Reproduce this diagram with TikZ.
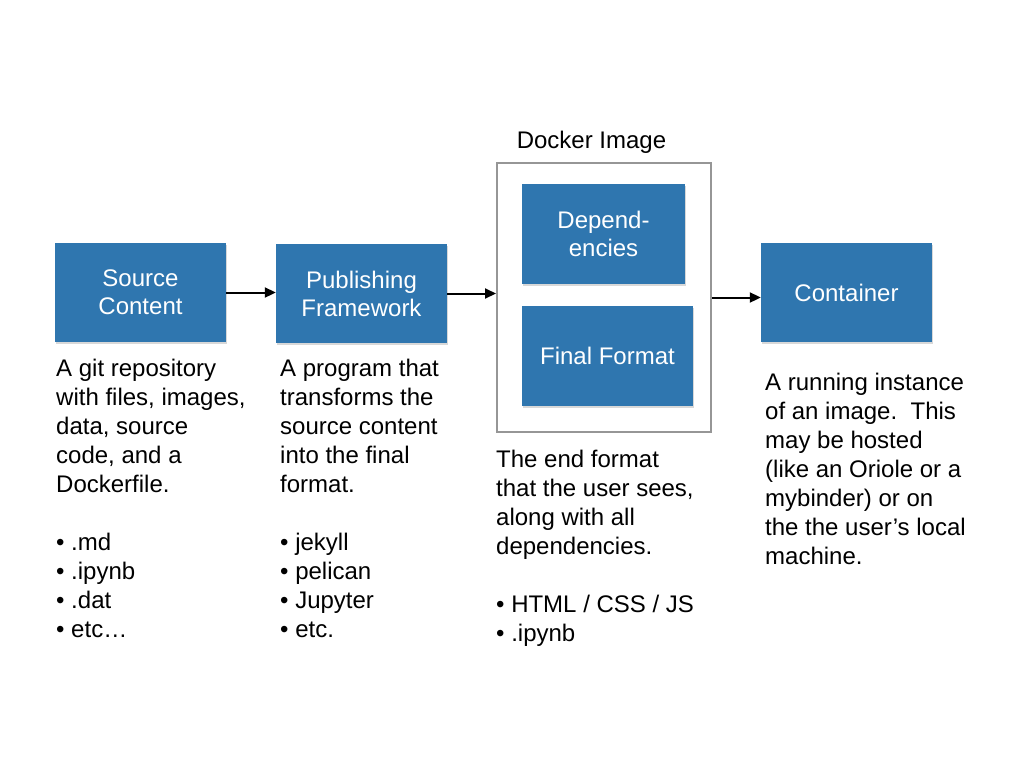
\documentclass[tikz,border=0pt]{standalone}
\usepackage{fontspec}
\setmainfont{Liberation Sans}
\usetikzlibrary{arrows.meta,shadows}
\definecolor{boxblue}{RGB}{47,118,175}
\definecolor{framegray}{RGB}{150,150,150}
\begin{document}
\begin{tikzpicture}[x=1pt,y=-1pt,
  bluebox/.style={fill=boxblue,draw=none,text=white,align=center,inner sep=0pt,
    font=\fontsize{24}{28}\selectfont,
    drop shadow={opacity=0.3,shadow xshift=0.8pt,shadow yshift=-1.5pt}},
  desc/.style={anchor=base west,align=left,inner sep=0pt,font=\fontsize{24}{29}\selectfont},
  conn/.style={line width=2pt,-{Triangle[length=11pt,width=10pt]}}]
\useasboundingbox[fill=white] (0,0) rectangle (1028,772);
\node[bluebox,minimum width=171pt,minimum height=99pt] (src) at (140.5,292.5) {Source\\Content};
\node[bluebox,minimum width=171pt,minimum height=99pt] (pub) at (361.5,293.5) {Publishing\\Framework};
\node[draw=framegray,line width=2pt,minimum width=214pt,minimum height=269pt,inner sep=0pt] (dock) at (604,297.5) {};
\node[anchor=base,inner sep=0pt,font=\fontsize{24}{29}\selectfont] (docklabel) at (591.5,148) {Docker Image};
\node[bluebox,minimum width=163pt,minimum height=100pt] (dep) at (603.5,234) {Depend-\\encies};
\node[bluebox,minimum width=171pt,minimum height=100pt] (fin) at (607.5,356) {Final Format};
\node[bluebox,minimum width=171pt,minimum height=99pt] (cont) at (846.5,292.5) {Container};
\draw[conn] (src.east) -- (src.east -| pub.west);
\draw[conn] (pub.east) -- (pub.east -| dock.west);
\draw[conn] (dock.east) -- (dock.east -| cont.west);
\node[desc] (d1) at (56,637) {A git repository\\with files, images,\\data, source\\code, and a\\Dockerfile.\\[29pt]• .md\\• .ipynb\\• .dat\\• etc…};
\node[desc] (d2) at (280,637) {A program that\\transforms the\\source content\\into the final\\format.\\[29pt]• jekyll\\• pelican\\• Jupyter\\• etc.};
\node[desc] (d3) at (496,641) {The end format\\that the user sees,\\along with all\\dependencies.\\[29pt]• HTML / CSS / JS\\• .ipynb};
\node[desc] (d4) at (765,564) {A running instance\\of an image.\ \ This\\may be hosted\\(like an Oriole or a\\mybinder) or on\\the the user’s local\\machine.};
\end{tikzpicture}
\end{document}
